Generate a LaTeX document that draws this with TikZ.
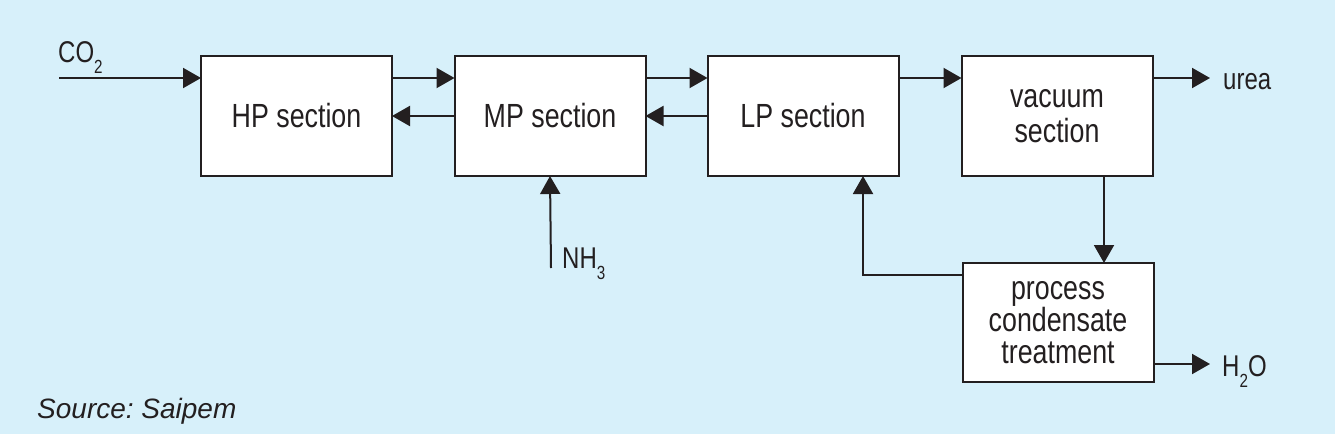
\documentclass[tikz,border=0pt]{standalone}
\usepackage{fontspec}
\setmainfont[FakeStretch=0.8]{Liberation Sans}
\newfontfamily\srcfont{Liberation Sans}
\usetikzlibrary{arrows.meta}
\definecolor{bg}{HTML}{D7F0FA}
\definecolor{ink}{HTML}{231F20}
\newcommand{\lowsub}[1]{\raisebox{-11pt}{\fontsize{19}{19}\selectfont #1}}
\frenchspacing
\begin{document}
\begin{tikzpicture}[x=1pt,y=-1pt,
  box/.style={draw=ink, fill=white, line width=2pt, minimum width=191pt, minimum height=120pt,
    inner sep=0pt, outer sep=0pt, font=\fontsize{33.5}{35}\selectfont, text=ink, align=center},
  flow/.style={draw=ink, line width=2pt, -{Triangle[length=18pt,width=20pt]}},
  lbl/.style={text=ink, font=\fontsize{30}{32}\selectfont, inner sep=0pt, anchor=base west}]
\fill[bg] (0,0) rectangle (1335,434);
\useasboundingbox (0,0) rectangle (1335,434);
\node[box] (hp) at (296.5,116) {HP section};
\node[box] (mp) at (550,116) {MP section};
\node[box] (lp) at (803,116) {LP section};
\node[box] (vac) at (1057,116) {vacuum\\section};
\node[box, minimum height=119pt, font=\fontsize{33.5}{32}\selectfont] (pct) at (1058,322.5) {process\\condensate\\treatment};
\coordinate (co2) at (59,78);
\coordinate (urea) at (1210,78);
\coordinate (nh3) at (551,268);
\coordinate (ret) at (863,275);
\coordinate (water) at (1210,364);
\node[lbl] (co2l) at (58,62) {CO\lowsub{2}};
\node[lbl] (nh3l) at (562,268) {NH\lowsub{3}};
\node[lbl] (h2ol) at (1222,376) {H\lowsub{2}O};
\node[lbl] (ureal) at (1223,89) {urea};
\node[text=ink, font=\srcfont\itshape\fontsize{28}{30}\selectfont, inner sep=0pt, anchor=base west] (src) at (37,418) {Source: Saipem};
\draw[flow] (co2) -- (hp.west |- co2);
\draw[flow] (hp.east |- co2) -- (mp.west |- co2);
\draw[flow] (mp.east |- co2) -- (lp.west |- co2);
\draw[flow] (lp.east |- co2) -- (vac.west |- co2);
\draw[flow] (vac.east |- co2) -- (urea);
\draw[flow] (mp.west) -- (hp.east);
\draw[flow] (lp.west) -- (mp.east);
\draw[flow] (nh3) -- (mp.south |- 0,176);
\draw[flow] (1104,176) -- (1104,263);
\draw[flow] (pct.west |- ret) -- (ret) -- (ret |- lp.south);
\draw[flow] (pct.east |- water) -- (water);
\end{tikzpicture}
\end{document}
